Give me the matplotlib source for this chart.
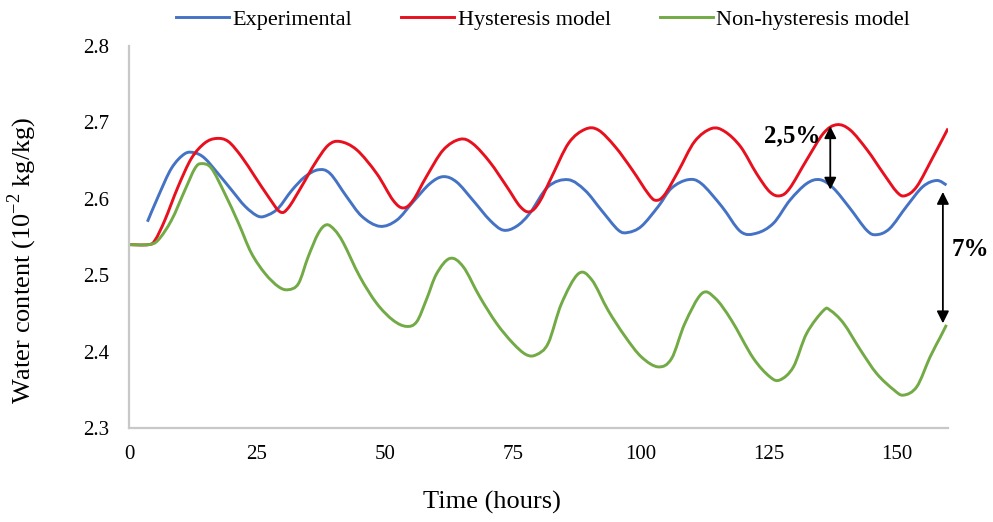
import numpy as np
import matplotlib
matplotlib.use("Agg")
import matplotlib.pyplot as plt
from matplotlib.ticker import FormatStrFormatter
from matplotlib.path import Path
from matplotlib.patches import PathPatch
from matplotlib.lines import Line2D

plt.rcParams['font.family'] = ['Liberation Serif', 'DejaVu Serif']

# Experimental
t_exp = [3.6, 5.7, 8.3, 10.9, 12.9, 14.8, 17.4, 20.1, 22.7, 25.3, 27.2, 29.2, 31.8, 34.4, 37.0,
         39.3, 42.5, 45.5, 49.0, 52.3, 55.5, 58.8, 61.4, 64.0, 67.2, 70.5, 73.1, 75.7, 78.3, 81.9,
         85.8, 89.1, 92.3, 95.6, 97.5, 100.1, 103.4, 106.0, 109.2, 111.8, 115.8, 119.5, 122.6, 125.9, 129.1,
         132.4, 135.0, 137.6, 140.8, 144.1, 146.0, 148.6, 151.9, 155.1, 157.8, 159.7]
w_exp = [2.570, 2.603, 2.640, 2.659, 2.660, 2.653, 2.633, 2.611, 2.590, 2.577, 2.579, 2.588, 2.611, 2.629, 2.638,
         2.633, 2.603, 2.577, 2.564, 2.572, 2.596, 2.620, 2.629, 2.622, 2.598, 2.572, 2.559, 2.564, 2.581, 2.616,
         2.625, 2.611, 2.585, 2.559, 2.556, 2.564, 2.590, 2.614, 2.625, 2.620, 2.590, 2.557, 2.555, 2.568, 2.598,
         2.620, 2.625, 2.614, 2.588, 2.559, 2.553, 2.561, 2.590, 2.616, 2.624, 2.618]

# Hysteresis model
t_hys = [0, 3.8, 5.1, 7.0, 9.6, 12.2, 14.8, 17.1, 19.4, 22.0, 24.6, 27.2, 29.5, 31.1, 33.7,
         36.3, 38.9, 41.2, 44.5, 48.4, 51.6, 53.6, 55.5, 58.1, 61.4, 64.7, 67.2, 70.5, 73.8, 76.4,
         78.3, 80.2, 82.6, 85.9, 89.1, 91.7, 95.0, 98.3, 101.4, 102.9, 104.6, 107.3, 110.5, 113.8, 116.4,
         119.5, 122.6, 125.2, 127.2, 129.1, 132.4, 135.7, 138.3, 140.9, 144.2, 147.4, 150.0, 151.6, 153.9, 157.1,
         160.0]
w_hys = [2.540, 2.540, 2.546, 2.572, 2.616, 2.653, 2.673, 2.679, 2.675, 2.655, 2.629, 2.603, 2.583, 2.588, 2.616,
         2.646, 2.670, 2.675, 2.664, 2.633, 2.598, 2.588, 2.598, 2.629, 2.664, 2.678, 2.672, 2.648, 2.616, 2.590,
         2.583, 2.596, 2.629, 2.673, 2.691, 2.690, 2.668, 2.638, 2.607, 2.598, 2.605, 2.636, 2.675, 2.692, 2.688,
         2.668, 2.633, 2.609, 2.604, 2.614, 2.651, 2.686, 2.697, 2.690, 2.664, 2.633, 2.609, 2.604, 2.616, 2.655,
         2.692]

# Non-hysteresis model
t_non = [0, 3.8, 5.7, 8.3, 10.9, 12.9, 14.2, 16.1, 18.7, 21.4, 23.9, 26.6, 29.2, 31.1, 33.1,
         35.0, 37.0, 38.6, 40.2, 41.9, 45.1, 48.4, 51.6, 54.2, 56.2, 58.1, 60.1, 62.7, 65.3, 68.5,
         71.8, 75.0, 77.6, 79.6, 81.9, 84.5, 87.8, 90.4, 93.6, 96.9, 100.1, 103.4, 106.0, 108.6, 111.9,
         114.5, 117.7, 121.9, 125.2, 127.2, 129.8, 132.4, 135.7, 137.0, 139.6, 142.9, 146.1, 149.4, 151.3,
         153.9, 156.5, 158.5, 159.7]
w_non = [2.540, 2.540, 2.546, 2.572, 2.611, 2.640, 2.646, 2.640, 2.607, 2.568, 2.529, 2.502, 2.485, 2.481, 2.489,
         2.524, 2.555, 2.566, 2.559, 2.542, 2.498, 2.463, 2.441, 2.433, 2.439, 2.468, 2.502, 2.522, 2.511, 2.472,
         2.437, 2.411, 2.396, 2.396, 2.411, 2.463, 2.502, 2.494, 2.454, 2.420, 2.393, 2.380, 2.391, 2.437, 2.476,
         2.470, 2.441, 2.392, 2.367, 2.363, 2.380, 2.424, 2.454, 2.454, 2.437, 2.402, 2.371, 2.350, 2.343,
         2.354, 2.393, 2.419, 2.435]

names = ['Experimental', 'Hysteresis model', 'Non-hysteresis model']
colors = ['#4472C4', '#E8101E', '#72AA45']


def smooth_path(x, y):
    # Excel-like "smoothed line": cubic Bezier segments through the data points
    p = np.column_stack([x, y])
    verts = [p[0]]
    codes = [Path.MOVETO]
    n = len(p)
    for i in range(n - 1):
        p0 = p[max(i - 1, 0)]
        p1 = p[i]
        p2 = p[i + 1]
        p3 = p[min(i + 2, n - 1)]
        verts += [p1 + (p2 - p0) / 6, p2 - (p3 - p1) / 6, p2]
        codes += [Path.CURVE4] * 3
    return Path(verts, codes)


fig = plt.figure(figsize=(9.93, 5.22), dpi=100)
ax = fig.add_axes([129/993, 1 - 428/522, 819/993, 382/522])

handles = []
for x, y, c, n in zip([t_exp, t_hys, t_non], [w_exp, w_hys, w_non], colors, names):
    ax.add_patch(PathPatch(smooth_path(x, y), fill=False, edgecolor=c, lw=2.1,
                           joinstyle='round', capstyle='butt'))
    handles.append(Line2D([], [], color=c, lw=2.1, label=n))

ax.set_xlim(0, 160)
ax.set_ylim(2.3, 2.8)
ax.set_xticks([0, 25, 50, 75, 100, 125, 150])
ax.set_yticks([2.3, 2.4, 2.5, 2.6, 2.7, 2.8])
ax.yaxis.set_major_formatter(FormatStrFormatter('%.1f'))
ax.tick_params(length=0, labelsize=15)
ax.tick_params(axis='y', pad=14)
ax.tick_params(axis='x', pad=12)

for s in ['top', 'right']:
    ax.spines[s].set_visible(False)
for s in ['left', 'bottom']:
    ax.spines[s].set_color('#C8C8C8')
    ax.spines[s].set_linewidth(1.6)

ax.set_xlabel('Time (hours)', fontsize=19)
ax.xaxis.set_label_coords(0.443, -0.165)
ax.set_ylabel(r'Water content (10$^{\mathregular{-2}}$ kg/kg)', fontsize=19)
ax.yaxis.set_label_coords(-0.11, 0.44)

# annotations
arr = dict(arrowstyle='<|-|>', color='black', lw=1.3, mutation_scale=18, shrinkA=0, shrinkB=0)
ax.annotate('', xy=(137.0, 2.695), xytext=(137.0, 2.612), arrowprops=arr)
ax.annotate('', xy=(159.0, 2.609), xytext=(159.0, 2.437), arrowprops=arr, annotation_clip=False)
ax.text(129.5, 2.683, '2,5%', fontsize=18, fontweight='bold', ha='center', va='center')
ax.text(164.3, 2.533, '7%', fontsize=18, fontweight='bold', ha='center', va='center', clip_on=False)

fig.legend(handles=handles, loc='center', bbox_to_anchor=(543/993, 1 - 20/522), ncol=3, frameon=False,
           fontsize=16, handlelength=2.4, handletextpad=0.15, columnspacing=2.2)

fig.savefig('out.png', dpi=100)
